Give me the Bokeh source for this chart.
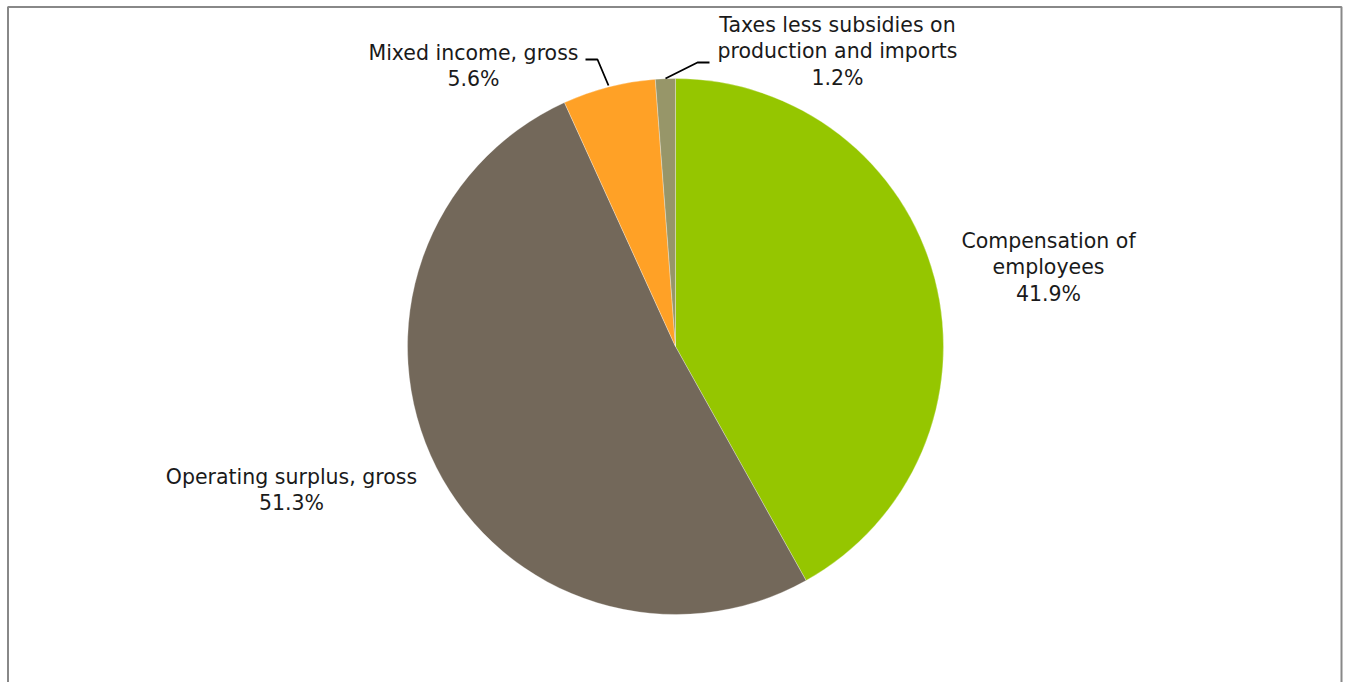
import numpy as np
from bokeh.plotting import figure
from bokeh.models import ColumnDataSource, Range1d, BoxAnnotation
from bokeh.core.properties import value
from bokeh.embed import file_html
from bokeh.resources import INLINE

categories = ["Compensation of employees", "Operating surplus, gross",
              "Mixed income, gross", "Taxes less subsidies on production and imports"]
shares = [41.9, 51.3, 5.6, 1.2]
colors = ["#95C600", "#73685A", "#FFA126", "#979669"]
label_lines = [["Compensation of", "employees", "41.9%"],
               ["Operating surplus, gross", "51.3%"],
               ["Mixed income, gross", "5.6%"],
               ["Taxes less subsidies on", "production and imports", "1.2%"]]

W, H = 1348, 682
p = figure(width=W, height=H, output_backend="svg", toolbar_location=None,
           x_range=Range1d(0, W), y_range=Range1d(0, H), min_border=0)
p.axis.visible = False
p.grid.visible = False
p.outline_line_color = None
p.background_fill_color = "white"
p.border_fill_color = "white"

# frame
p.add_layout(BoxAnnotation(left=7.5, right=1341, top=H - 6.5, bottom=-20,
                           fill_alpha=0, line_color="#888888", line_alpha=1.0,
                           line_width=2))

cx, cy, r = 675, H - 346, 268
vals = np.array(shares)
frac = vals / vals.sum()
cum = np.concatenate([[0], np.cumsum(frac)])
start = np.pi / 2 - cum[1:] * 2 * np.pi
end = np.pi / 2 - cum[:-1] * 2 * np.pi
src = ColumnDataSource(dict(start=start, end=end, color=colors))
p.wedge(x=cx, y=cy, radius=r, start_angle="start", end_angle="end",
        fill_color="color", line_color="white", line_width=0.3, source=src)

# labels (center x, first line y in screen px)
label_pos = [(1048, 240), (291, 476), (473, 52), (837, 24)]
lh = 26.5
xs, ys, ts = [], [], []
for lines, (lx, ly) in zip(label_lines, label_pos):
    for i, t in enumerate(lines):
        xs.append(lx)
        ys.append(H - (ly + i * lh))
        ts.append(t)
p.text(x=xs, y=ys, text=ts, text_font=value("DejaVu Sans"), text_font_size="20.5px",
       text_color="#1a1a1a", text_align="center", text_baseline="middle")

# leader lines
p.line(x=[585, 597, 608], y=[H - 59, H - 59, H - 85], line_color="black", line_width=1.8)
p.line(x=[709, 697, 665], y=[H - 62, H - 62, H - 78], line_color="black", line_width=1.8)

open("out.html", "w").write(file_html(p, INLINE))
